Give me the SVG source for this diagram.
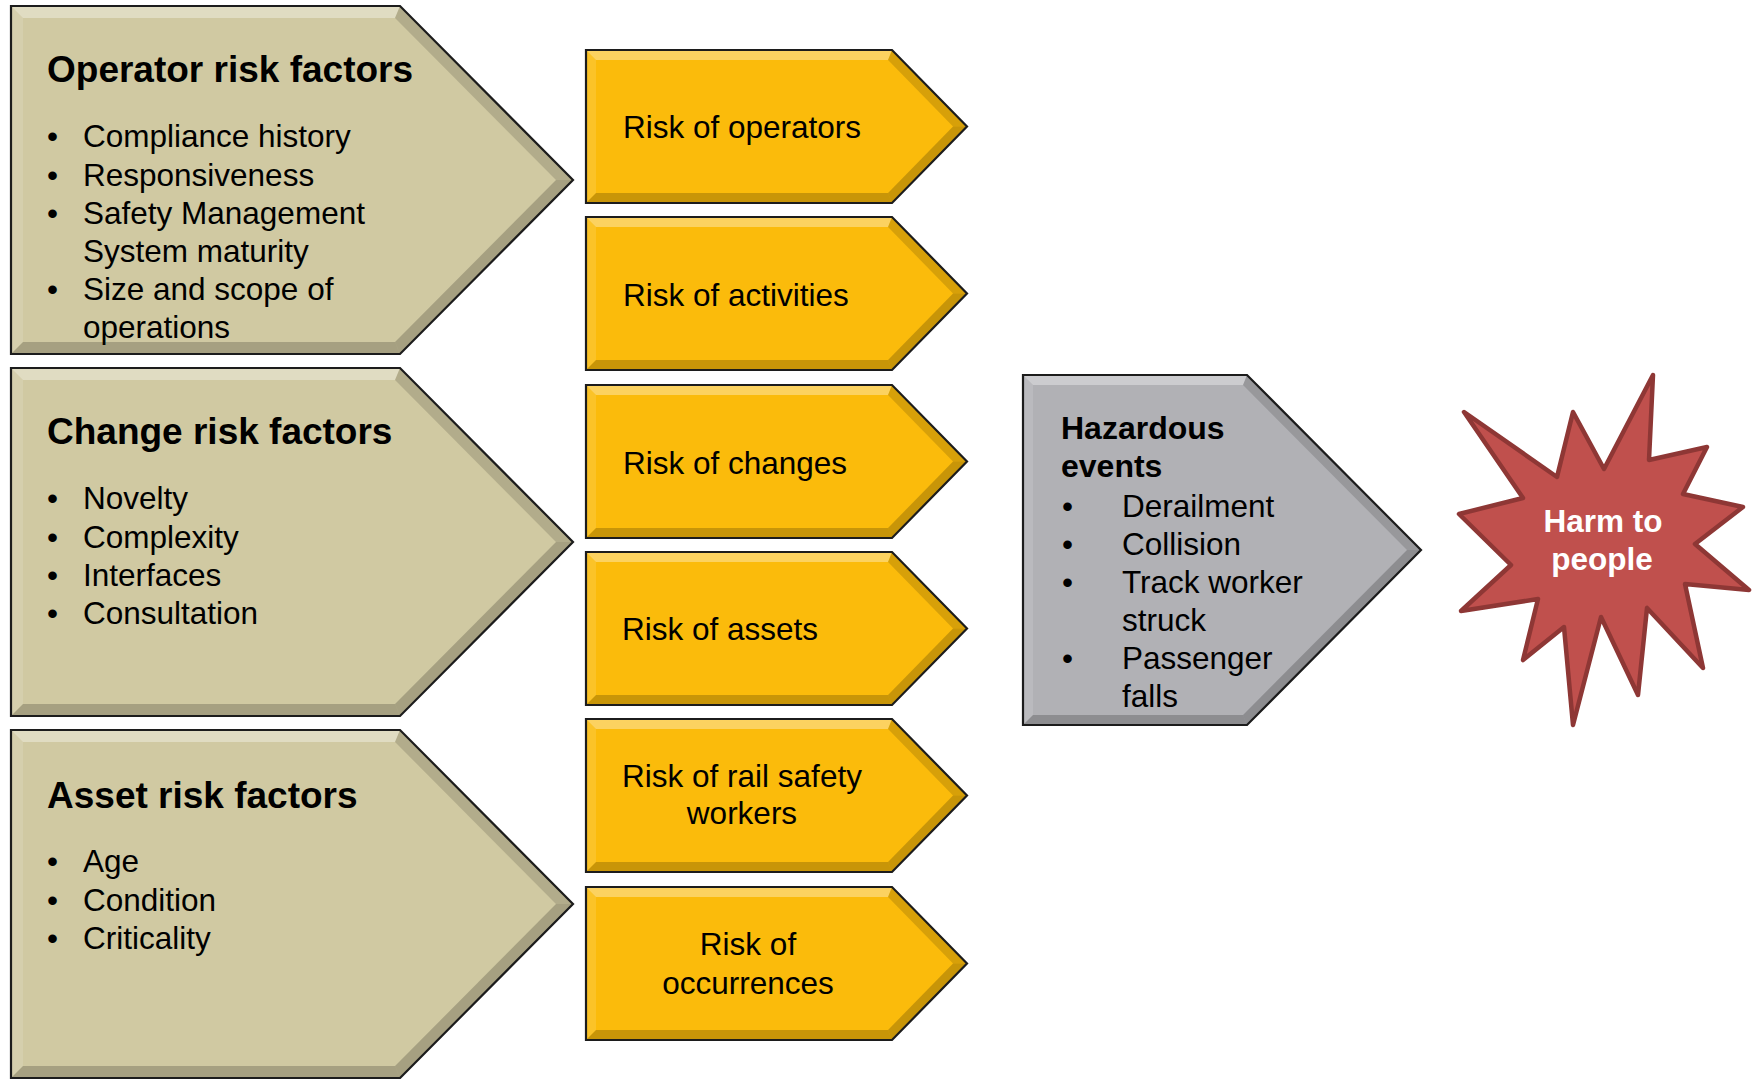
<svg xmlns="http://www.w3.org/2000/svg" width="1756" height="1079" viewBox="0 0 1756 1079">
<style>
  text { font-family: "Liberation Sans", Arial, sans-serif; fill: #000; }
  .title { font-size: 37px; font-weight: bold; }
  .item { font-size: 31.5px; }
  .htitle { font-size: 32px; font-weight: bold; }
  .mid { text-anchor: middle; }
  .startxt { font-size: 31.5px; font-weight: bold; fill: #fff; text-anchor: middle; }
  .edge { stroke: #1c1c1c; stroke-width: 2.2; stroke-linejoin: miter; }
  .hl { fill: #ffffff; opacity: 0.35; }
  .hl2 { fill: #ffffff; opacity: 0.12; }
  .sh { fill: #000000; opacity: 0.14; }
  .sh2 { fill: #000000; opacity: 0.2; }
  .tan { fill: #D0C9A2; }
  .gold { fill: #FBBB0B; }
  .grey { fill: #B1B1B5; }
</style>
<defs>
  <g id="tanShape">
    <polygon class="tan" points="0,0 389,0 562,174 389,348 0,348"/>
    <polygon class="hl" points="0,0 389,0 384,12 12,12"/>
    <polygon class="hl2" points="0,348 0,0 12,12 12,336"/>
    <polygon class="sh" points="389,0 562,174 545,174 384,12"/>
    <polygon class="sh2" points="562,174 389,348 384,336 545,174"/>
    <polygon class="sh2" points="389,348 0,348 12,336 384,336"/>
    <polygon class="edge" fill="none" points="0,0 389,0 562,174 389,348 0,348"/>
  </g>
  <g id="goldShape">
    <polygon class="gold" points="0,0 306,0 381,76.5 306,153 0,153"/>
    <polygon class="hl" points="0,0 306,0 302,10 10,10"/>
    <polygon class="hl2" points="0,153 0,0 10,10 10,143"/>
    <polygon class="sh" points="306,0 381,76.5 367,76.5 302,10"/>
    <polygon class="sh2" points="381,76.5 306,153 302,143 367,76.5"/>
    <polygon class="sh2" points="306,153 0,153 10,143 302,143"/>
    <polygon class="edge" fill="none" points="0,0 306,0 381,76.5 306,153 0,153"/>
  </g>
  <g id="greyShape">
    <polygon class="grey" points="0,0 224,0 398,175 224,350 0,350"/>
    <polygon class="hl" points="0,0 224,0 220,10 10,10"/>
    <polygon class="hl2" points="0,350 0,0 10,10 10,340"/>
    <polygon class="sh" points="224,0 398,175 384,175 220,10"/>
    <polygon class="sh2" points="398,175 224,350 220,340 384,175"/>
    <polygon class="sh2" points="224,350 0,350 10,340 220,340"/>
    <polygon class="edge" fill="none" points="0,0 224,0 398,175 224,350 0,350"/>
  </g>
</defs>

<rect width="1756" height="1079" fill="#ffffff"/>

<g id="connectors"/>

<g id="operator-risk-factors">
  <use href="#tanShape" x="11" y="6"/>
  <text class="title" x="47" y="82">Operator risk factors</text>
  <text class="item" x="47" y="147">•</text><text class="item" x="83" y="147">Compliance history</text>
  <text class="item" x="47" y="186">•</text><text class="item" x="83" y="186">Responsiveness</text>
  <text class="item" x="47" y="224">•</text><text class="item" x="83" y="224">Safety Management</text>
  <text class="item" x="83" y="262">System maturity</text>
  <text class="item" x="47" y="300">•</text><text class="item" x="83" y="300">Size and scope of</text>
  <text class="item" x="83" y="338">operations</text>
</g>

<g id="change-risk-factors">
  <use href="#tanShape" x="11" y="368"/>
  <text class="title" x="47" y="444">Change risk factors</text>
  <text class="item" x="47" y="509">•</text><text class="item" x="83" y="509">Novelty</text>
  <text class="item" x="47" y="548">•</text><text class="item" x="83" y="548">Complexity</text>
  <text class="item" x="47" y="586">•</text><text class="item" x="83" y="586">Interfaces</text>
  <text class="item" x="47" y="624">•</text><text class="item" x="83" y="624">Consultation</text>
</g>

<g id="asset-risk-factors">
  <use href="#tanShape" x="11" y="730"/>
  <text class="title" x="47" y="808">Asset risk factors</text>
  <text class="item" x="47" y="872">•</text><text class="item" x="83" y="872">Age</text>
  <text class="item" x="47" y="911">•</text><text class="item" x="83" y="911">Condition</text>
  <text class="item" x="47" y="949">•</text><text class="item" x="83" y="949">Criticality</text>
</g>

<g id="risk-of-operators">
  <use href="#goldShape" x="586" y="50"/>
  <text class="item" x="623" y="138">Risk of operators</text>
</g>
<g id="risk-of-activities">
  <use href="#goldShape" x="586" y="217"/>
  <text class="item" x="623" y="306">Risk of activities</text>
</g>
<g id="risk-of-changes">
  <use href="#goldShape" x="586" y="385"/>
  <text class="item" x="623" y="474">Risk of changes</text>
</g>
<g id="risk-of-assets">
  <use href="#goldShape" x="586" y="552"/>
  <text class="item" x="622" y="640">Risk of assets</text>
</g>
<g id="risk-of-rail-safety-workers">
  <use href="#goldShape" x="586" y="719"/>
  <text class="item mid" x="742" y="787">Risk of rail safety</text>
  <text class="item mid" x="742" y="824">workers</text>
</g>
<g id="risk-of-occurrences">
  <use href="#goldShape" x="586" y="887"/>
  <text class="item mid" x="748" y="955">Risk of</text>
  <text class="item mid" x="748" y="994">occurrences</text>
</g>

<g id="hazardous-events">
  <use href="#greyShape" x="1023" y="375"/>
  <text class="htitle" x="1061" y="439">Hazardous</text>
  <text class="htitle" x="1061" y="477">events</text>
  <text class="item" x="1062" y="517">•</text><text class="item" x="1122" y="517">Derailment</text>
  <text class="item" x="1062" y="555">•</text><text class="item" x="1122" y="555">Collision</text>
  <text class="item" x="1062" y="593">•</text><text class="item" x="1122" y="593">Track worker</text>
  <text class="item" x="1122" y="631">struck</text>
  <text class="item" x="1062" y="669">•</text><text class="item" x="1122" y="669">Passenger</text>
  <text class="item" x="1122" y="707">falls</text>
</g>

<g id="harm-to-people">
  <polygon fill="#C0504D" stroke="#8E3735" stroke-width="4.5" stroke-linejoin="round"
    points="1653,375 1649,460 1707,447 1683,494 1743,507 1695,544 1749,590 1685,584 1703,668 1647,608 1638,695 1601,617 1573,725 1564,627 1523,660 1538,599 1461,611 1511,565 1459,514 1523,498 1464,412 1557,477 1573,412 1604,469"/>
  <text class="startxt" x="1603" y="532">Harm to</text>
  <text class="startxt" x="1602" y="570">people</text>
</g>
</svg>
